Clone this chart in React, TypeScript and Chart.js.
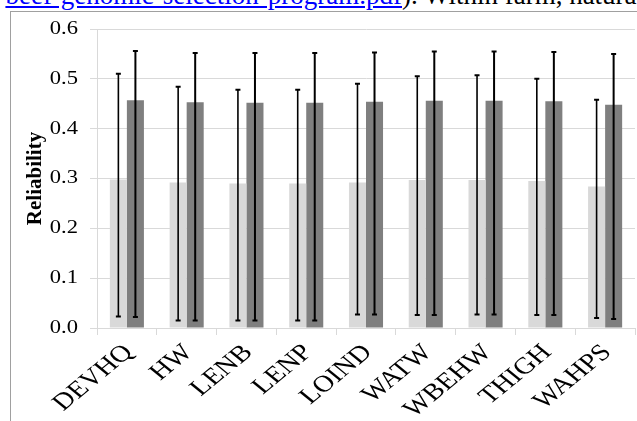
import React, { useEffect, useRef } from "react";
import { Chart, registerables } from "chart.js";

Chart.register(...registerables);

const categories = ["DEVHQ", "HW", "LENB", "LENP", "LOIND", "WATW", "WBEHW", "THIGH", "WAHPS"];
const lightValues = [0.298, 0.292, 0.290, 0.290, 0.292, 0.297, 0.297, 0.295, 0.284];
const darkValues = [0.457, 0.453, 0.452, 0.452, 0.454, 0.456, 0.456, 0.455, 0.448];
const lightUpper = [0.510, 0.484, 0.478, 0.478, 0.490, 0.505, 0.507, 0.500, 0.458];
const lightLower = [0.023, 0.015, 0.015, 0.015, 0.027, 0.026, 0.027, 0.026, 0.020];
const darkUpper = [0.556, 0.552, 0.552, 0.552, 0.553, 0.555, 0.555, 0.554, 0.550];
const darkLower = [0.022, 0.015, 0.015, 0.015, 0.027, 0.026, 0.027, 0.026, 0.018];
const yTicks = [0, 0.1, 0.2, 0.3, 0.4, 0.5, 0.6];
const yTickLabels = ["0.0", "0.1", "0.2", "0.3", "0.4", "0.5", "0.6"];

const SERIF = "'Liberation Serif', 'Times New Roman', serif";
const STRETCH = 1.22;

const errorBarPlugin = {
  id: "errorBars",
  afterDatasetsDraw(chart: any) {
    const ctx = chart.ctx;
    const y = chart.scales.y;
    const sets = [
      { upper: lightUpper, lower: lightLower, lw: 1.6 },
      { upper: darkUpper, lower: darkLower, lw: 2 },
    ];
    sets.forEach((s, d) => {
      const meta = chart.getDatasetMeta(d);
      meta.data.forEach((el: any, i: number) => {
        const x = el.x;
        const yt = y.getPixelForValue(s.upper[i]);
        const yb = y.getPixelForValue(s.lower[i]);
        ctx.save();
        ctx.strokeStyle = "#000";
        ctx.lineWidth = s.lw;
        ctx.beginPath();
        ctx.moveTo(x, yt);
        ctx.lineTo(x, yb);
        ctx.stroke();
        ctx.lineWidth = 2;
        ctx.beginPath();
        ctx.moveTo(x - 2.5, yt);
        ctx.lineTo(x + 2.5, yt);
        ctx.moveTo(x - 2.5, yb);
        ctx.lineTo(x + 2.5, yb);
        ctx.stroke();
        ctx.restore();
      });
    });
  },
};

// Tick labels drawn slightly widened, as in the reference picture
const labelPlugin = {
  id: "stretchedLabels",
  afterDraw(chart: any) {
    const ctx = chart.ctx;
    const xs = chart.scales.x;
    const ys = chart.scales.y;
    ctx.save();
    ctx.fillStyle = "#000";
    ctx.font = `18.5px ${SERIF}`;
    ctx.textAlign = "right";
    ctx.textBaseline = "middle";
    yTicks.forEach((v, i) => {
      const py = ys.getPixelForValue(v);
      ctx.save();
      ctx.translate(ys.right - 7 - 12, py);
      ctx.scale(STRETCH, 1);
      ctx.fillText(yTickLabels[i], 0, 0);
      ctx.restore();
    });
    ctx.font = `23.5px ${SERIF}`;
    const axisY = ys.getPixelForValue(0);
    categories.forEach((c, i) => {
      const px = xs.getPixelForValue(i);
      ctx.save();
      ctx.translate(px + 2, axisY + 21);
      ctx.scale(STRETCH, 1);
      ctx.rotate(-Math.PI / 4);
      ctx.fillText(c, 0, 0);
      ctx.restore();
    });
    ctx.restore();
  },
};

export default function App() {
  const ref = useRef<HTMLCanvasElement | null>(null);
  useEffect(() => {
    if (!ref.current) return;
    const chart = new Chart(ref.current, {
      type: "bar",
      data: {
        labels: categories,
        datasets: [
          { label: "Series 1", data: lightValues, backgroundColor: "#d9d9d9", borderWidth: 0 },
          { label: "Series 2", data: darkValues, backgroundColor: "#7f7f7f", borderWidth: 0 },
        ],
      },
      options: {
        responsive: false,
        animation: false,
        devicePixelRatio: 1,
        layout: { padding: { top: 17, right: 2, left: 0, bottom: 0 } },
        plugins: { legend: { display: false }, tooltip: { enabled: false }, title: { display: false } },
        datasets: { bar: { categoryPercentage: 0.57, barPercentage: 1.0 } },
        scales: {
          x: {
            grid: { drawOnChartArea: false, drawTicks: true, tickLength: 7, color: "#d9d9d9", offset: true },
            border: { display: true, color: "#d9d9d9", width: 1 },
            ticks: { display: false, autoSkip: false },
            afterFit: (s: any) => { s.height = 93; },
          },
          y: {
            min: 0,
            max: 0.6,
            afterBuildTicks: (s: any) => { s.ticks = yTicks.map((v) => ({ value: v })); },
            grid: { color: "#d9d9d9", lineWidth: 1, tickLength: 7, drawTicks: true },
            border: { display: true, color: "#d9d9d9", width: 1 },
            ticks: { display: false },
            title: {
              display: true,
              text: "Reliability",
              color: "#000",
              padding: { top: 12, bottom: 0 },
              font: { family: SERIF, size: 21, weight: "bold" },
            },
            afterFit: (s: any) => { s.width = 86; },
          },
        },
      },
      plugins: [errorBarPlugin, labelPlugin],
    } as any);
    return () => chart.destroy();
  }, []);

  return (
    <div style={{ position: "fixed", left: 0, top: 0, width: 637, height: 421, overflow: "hidden", background: "#fff" }}>
      <div style={{ position: "absolute", top: -18, left: 0, width: 637, height: 30, fontFamily: SERIF, fontSize: 27, lineHeight: "27px", whiteSpace: "nowrap" }}>
        <span style={{ position: "absolute", right: 637 - 402, top: 0, color: "#0000ff", textDecoration: "underline" }}>beef-genomic-selection-program.pdf</span>
        <span style={{ position: "absolute", left: 402, top: 0, color: "#000" }}>). Within farm, natura</span>
      </div>
      <div style={{ position: "absolute", left: 10, top: 11, width: 640, height: 420, borderTop: "1px solid #a0a0a0", borderLeft: "1px solid #a0a0a0" }} />
      <canvas ref={ref} width={626} height={409} style={{ position: "absolute", left: 11, top: 12, width: 626, height: 409, display: "block" }} />
    </div>
  );
}
